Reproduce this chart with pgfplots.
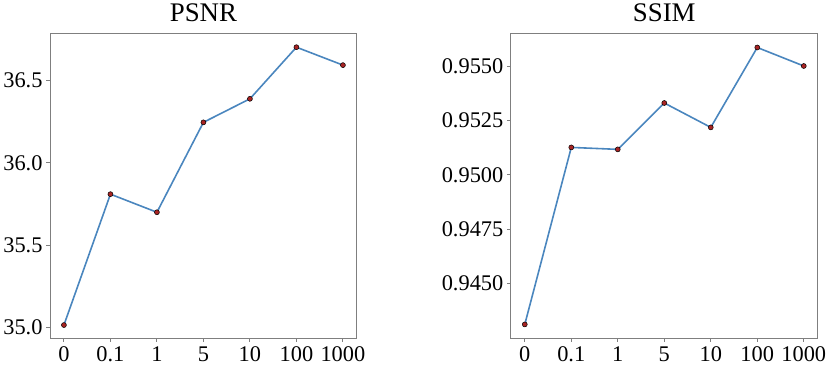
\documentclass[border=0pt]{standalone}
\usepackage{fontspec}
\setmainfont{Liberation Serif}
\usepackage{pgfplots}
\pgfplotsset{compat=1.18}

\definecolor{linec}{HTML}{4A86BE}
\definecolor{markc}{HTML}{A82424}
\definecolor{framec}{HTML}{7F7F7F}

\pgfplotsset{
  panel/.style={
    scale only axis,
    width=307.4bp, height=305.3bp,
    xmin=-0.3, xmax=6.3,
    xtick={0,1,2,3,4,5,6},
    xticklabels={0,0.1,1,5,10,100,1000},
    axis line style={framec, line width=0.9bp},
    tick style={framec, line width=0.9bp},
    tick align=outside,
    major tick length=3.5bp,
    xtick pos=bottom, ytick pos=left,
    /pgf/number format/assume math mode=true,
    tick label style={font=\fontsize{22.5}{22.5}\selectfont},
    xticklabel style={yshift=-1.5bp},
    yticklabel style={xshift=-0.5bp},
    title style={font=\fontsize{27}{27}\selectfont, at={(0.5,1)}, anchor=base, yshift=6.5bp},
    clip=false,
  },
  series/.style={linec, line width=1.6bp, mark=*, mark size=2.5bp,
    mark options={fill=markc, draw=black, line width=0.5bp}},
}

\begin{document}
\begin{tikzpicture}
\path (-48.7bp,-30.7bp) rectangle (782.3bp,334.3bp);

\begin{axis}[panel, at={(0,0)},
  title={PSNR},
  ymin=34.933, ymax=36.787,
  ytick={35.0,35.5,36.0,36.5},
  yticklabels={35.0,35.5,36.0,36.5},
]
\addplot[series] coordinates {
(0,35.014) (1,35.81) (2,35.70) (3,36.247) (4,36.39) (5,36.704) (6,36.595)
};
\end{axis}

\begin{axis}[panel, at={(461.6bp,0)},
  title={SSIM},
  ymin=0.94249, ymax=0.95649,
  ytick={0.9450,0.9475,0.9500,0.9525,0.9550},
  yticklabels={0.9450,0.9475,0.9500,0.9525,0.9550},
]
\addplot[series] coordinates {
(0,0.94313) (1,0.95126) (2,0.95117) (3,0.95330) (4,0.95218) (5,0.95585) (6,0.95500)
};
\end{axis}
\end{tikzpicture}
\end{document}
